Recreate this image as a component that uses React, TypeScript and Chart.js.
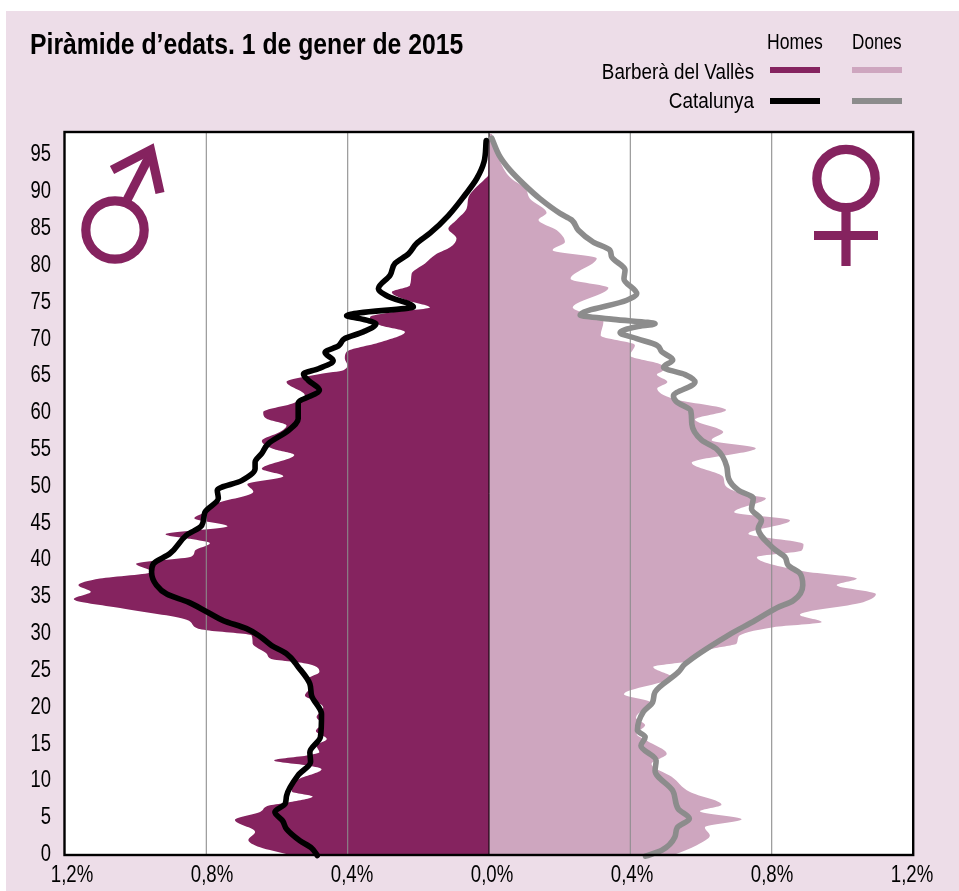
import React, { useEffect, useRef } from "react";
import { Chart, registerables } from "chart.js";

Chart.register(...registerables);

const titleText = "Piràmide d’edats. 1 de gener de 2015";
const columnHeads = ["Homes", "Dones"];
const placeNames = ["Barberà del Vallès", "Catalunya"];
const ageTicksStep = 5;
const shareTicksStep = 0.4;

// Top of the pyramid first: [age, % of population]
const barberaMenAges = [97, 92.9, 92, 91.3, 90.4, 89, 87.5, 85.9, 84.7, 83.4, 82.2, 81.3, 80, 78.6, 77, 76.1, 75, 74, 73.4, 72.7, 71.6, 70.7, 69.3, 68, 67.1, 66.2, 65.5, 65, 63.9, 62.1, 61, 59.8, 58.9, 58, 57.1, 55.9, 54.8, 54, 52.1, 51.1, 50, 49, 47.4, 46.2, 45.4, 44.3, 43.2, 42.6, 42, 41, 40.2, 39.2, 38.1, 37.2, 36.3, 35.4, 34.4, 33.2, 31.6, 30.4, 30.2, 29.5, 28.4, 27, 26.2, 25.9, 25.6, 24.5, 23.6, 22.5, 21.3, 20.7, 19.7, 18.4, 17.5, 16.5, 15.4, 14.5, 13.6, 13.2, 12.5, 11.8, 11.3, 9.9, 8.3, 7.6, 6.8, 6.4, 5.5, 4.4, 2.8, 1.7, 0.7, -0.34];
const barberaMenValues = [0, 0.002, 0.002, 0.015, 0.035, 0.058, 0.063, 0.092, 0.115, 0.092, 0.11, 0.148, 0.181, 0.219, 0.224, 0.275, 0.233, 0.167, 0.271, 0.337, 0.308, 0.238, 0.308, 0.403, 0.408, 0.401, 0.412, 0.478, 0.573, 0.521, 0.554, 0.639, 0.629, 0.573, 0.592, 0.643, 0.61, 0.551, 0.643, 0.582, 0.684, 0.667, 0.771, 0.804, 0.834, 0.74, 0.915, 0.846, 0.79, 0.832, 0.842, 0.999, 0.955, 1.101, 1.162, 1.127, 1.175, 1.044, 0.856, 0.823, 0.799, 0.672, 0.669, 0.629, 0.61, 0.554, 0.511, 0.48, 0.511, 0.505, 0.521, 0.497, 0.469, 0.488, 0.474, 0.49, 0.459, 0.488, 0.48, 0.511, 0.608, 0.511, 0.474, 0.54, 0.558, 0.499, 0.568, 0.62, 0.648, 0.719, 0.662, 0.681, 0.648, 0.563];

const barberaWomenAges = [97.6, 92.9, 91.5, 90.2, 88.8, 86.9, 85.9, 84.5, 82.9, 81.8, 80.7, 77.9, 76.7, 74, 73.4, 72.1, 70.2, 68.9, 67.5, 66.2, 65.5, 64.9, 63.9, 63, 61.6, 60.1, 58.8, 57.1, 56, 54.9, 52.9, 51, 49.9, 48.7, 48.1, 46.2, 45.1, 43.3, 41.9, 41, 40.1, 38.2, 37.2, 36.3, 35.1, 34, 32.3, 31.3, 30.6, 29.3, 28.4, 27.7, 25.9, 25.2, 23.8, 21.5, 20.4, 18.3, 17.3, 16.1, 15.2, 13.4, 12, 10.3, 8.2, 6.5, 5.6, 4.5, 3.4, 2.3, 1, -0.34];
const barberaWomenValues = [0.008, 0.041, 0.064, 0.102, 0.116, 0.163, 0.14, 0.192, 0.215, 0.18, 0.305, 0.231, 0.338, 0.237, 0.258, 0.324, 0.316, 0.413, 0.399, 0.489, 0.493, 0.475, 0.505, 0.476, 0.522, 0.671, 0.583, 0.663, 0.63, 0.755, 0.574, 0.663, 0.668, 0.72, 0.784, 0.694, 0.852, 0.734, 0.89, 0.885, 0.758, 0.89, 1.041, 0.984, 1.095, 1.059, 0.88, 0.942, 0.805, 0.706, 0.701, 0.635, 0.555, 0.465, 0.517, 0.382, 0.456, 0.416, 0.442, 0.418, 0.446, 0.503, 0.46, 0.517, 0.569, 0.658, 0.597, 0.715, 0.611, 0.625, 0.588, 0.522];

const catalunyaMenAges = [96.7, 93.8, 91.5, 89.3, 86.5, 84.1, 82.7, 81.3, 80, 78.4, 76.6, 75.5, 74.1, 73.3, 72.9, 72.5, 71.8, 70.7, 69.8, 68.8, 67.9, 66.8, 65.7, 65, 64.1, 62.8, 61, 58.9, 57.3, 55.5, 54.2, 53, 52.1, 50.5, 49.2, 48.1, 46.2, 44.4, 43.1, 40.6, 39.2, 38.1, 36.3, 35.1, 34, 32.7, 31.5, 30.4, 29.3, 28.1, 27, 25.2, 22.9, 21.3, 18.8, 15.7, 13.6, 12.3, 10.5, 7.7, 6.6, 5.5, 4.3, 3.2, 1.6, 0.6, -0.4];
const catalunyaMenValues = [0.008, 0.014, 0.035, 0.068, 0.115, 0.167, 0.205, 0.228, 0.266, 0.28, 0.313, 0.285, 0.214, 0.365, 0.403, 0.365, 0.32, 0.356, 0.408, 0.426, 0.464, 0.441, 0.483, 0.525, 0.511, 0.48, 0.54, 0.54, 0.568, 0.625, 0.643, 0.662, 0.662, 0.7, 0.769, 0.766, 0.804, 0.813, 0.856, 0.903, 0.95, 0.955, 0.941, 0.912, 0.851, 0.799, 0.752, 0.686, 0.647, 0.615, 0.573, 0.54, 0.507, 0.502, 0.474, 0.477, 0.507, 0.505, 0.54, 0.573, 0.577, 0.606, 0.584, 0.573, 0.535, 0.502, 0.486];

const catalunyaWomenAges = [97, 94.5, 92.7, 90.6, 88.8, 86.8, 85.9, 84.5, 82.9, 81.8, 80.9, 79.1, 77.9, 75.9, 75, 73, 72.4, 71.8, 71.4, 70.6, 69.8, 68.9, 68, 66.9, 65.9, 64.9, 63.9, 62, 61.2, 60, 58.2, 56, 54.8, 52.4, 50.8, 49.2, 48.1, 46.7, 45.1, 44, 41.3, 40.1, 39, 37.9, 36.3, 34.2, 33.2, 31.5, 29.5, 25.6, 24.5, 21.8, 20.4, 19.1, 16.6, 15.7, 14.5, 12.5, 11.1, 8.4, 5.9, 4.6, 3.4, 2.1, 0.3, -0.5];
const catalunyaWomenValues = [0.008, 0.031, 0.059, 0.102, 0.144, 0.201, 0.234, 0.253, 0.295, 0.342, 0.347, 0.385, 0.382, 0.418, 0.39, 0.258, 0.352, 0.47, 0.418, 0.371, 0.418, 0.475, 0.489, 0.52, 0.494, 0.555, 0.583, 0.522, 0.531, 0.571, 0.574, 0.602, 0.644, 0.673, 0.678, 0.706, 0.748, 0.743, 0.771, 0.762, 0.805, 0.838, 0.847, 0.88, 0.888, 0.861, 0.814, 0.753, 0.677, 0.555, 0.536, 0.47, 0.463, 0.437, 0.42, 0.442, 0.43, 0.473, 0.47, 0.52, 0.536, 0.567, 0.533, 0.526, 0.489, 0.443];

const PURPLE = "#85235f";
const PINK = "#cea6bf";
const PANEL = "#eddde8";
const GREY = "#8c8c8c";
const FONT = '"Liberation Sans", Arial, sans-serif';

const toPoints = (ages: number[], values: number[], sign: number) =>
  ages.map((y, i) => ({ x: sign * values[i], y })).reverse();

const shareLabel = (v: number) => Math.abs(v).toFixed(1).replace(".", ",") + "%";

const framePlugin = {
  id: "frame",
  beforeDraw(chart: any) {
    const { ctx, chartArea: a } = chart;
    ctx.save();
    ctx.fillStyle = "#fff";
    ctx.fillRect(a.left, a.top, a.right - a.left, a.bottom - a.top);
    ctx.restore();
  },
  // Grid lines sit above the filled areas but under the two Catalunya lines.
  afterDatasetDraw(chart: any, args: any) {
    if (args.index !== 2) return;
    const { ctx, chartArea, scales } = chart;
    ctx.save();
    scales.x.ticks.forEach((t: any) => {
      if (Math.abs(Math.abs(t.value) - 1.2) < 1e-6) return;
      const zero = Math.abs(t.value) < 1e-6;
      const px = scales.x.getPixelForValue(t.value);
      ctx.beginPath();
      ctx.strokeStyle = zero ? "#000" : "rgba(140,140,140,0.9)";
      ctx.lineWidth = zero ? 1 : 1.2;
      ctx.moveTo(px, chartArea.top);
      ctx.lineTo(px, chartArea.bottom);
      ctx.stroke();
    });
    ctx.restore();
  },
  // No condensed face is installed: the axis labels are squeezed horizontally.
  afterDraw(chart: any) {
    const { ctx, chartArea: a, scales } = chart;
    ctx.save();
    ctx.strokeStyle = "#000";
    ctx.lineWidth = 2.4;
    ctx.strokeRect(a.left - 0.5, a.top, a.right - a.left + 0.7, a.bottom - a.top);
    ctx.fillStyle = "#000";
    ctx.font = `23px ${FONT}`;
    ctx.textBaseline = "alphabetic";
    scales.x.ticks.forEach((t: any) => {
      ctx.save();
      ctx.translate(scales.x.getPixelForValue(t.value) + 3 - 3.33 * t.value, 882);
      ctx.scale(0.81, 1);
      ctx.textAlign = "center";
      ctx.fillText(t.label, 0, 0);
      ctx.restore();
    });
    scales.y.ticks.forEach((t: any) => {
      ctx.save();
      ctx.translate(51, scales.y.getPixelForValue(t.value) + 8.5);
      ctx.scale(0.8, 1);
      ctx.textAlign = "right";
      ctx.fillText(t.label, 0, 0);
      ctx.restore();
    });
    ctx.restore();
  },
};

const abs: React.CSSProperties = { position: "absolute", whiteSpace: "nowrap", fontFamily: FONT, color: "#000", lineHeight: 1 };

export default function App() {
  const ref = useRef<HTMLCanvasElement>(null);

  useEffect(() => {
    const line = (label: string, data: any[], color: string) => ({
      label, data, borderColor: color, borderWidth: 5.6, pointRadius: 0, fill: false,
      cubicInterpolationMode: "monotone", borderCapStyle: "round", borderJoinStyle: "round", clip: false,
    });
    const area = (label: string, data: any[], color: string) => ({
      label, data, borderColor: color, backgroundColor: color, borderWidth: 0, pointRadius: 0,
      fill: { value: 0 }, cubicInterpolationMode: "monotone",
    });
    const chart = new Chart(ref.current as HTMLCanvasElement, {
      type: "line",
      data: {
        datasets: [
          line("Catalunya Homes", toPoints(catalunyaMenAges, catalunyaMenValues, -1), "#000"),
          line("Catalunya Dones", toPoints(catalunyaWomenAges, catalunyaWomenValues, 1), GREY),
          area("Barberà del Vallès Homes", toPoints(barberaMenAges, barberaMenValues, -1), PURPLE),
          area("Barberà del Vallès Dones", toPoints(barberaWomenAges, barberaWomenValues, 1), PINK),
        ],
      } as any,
      options: {
        indexAxis: "y",
        responsive: false,
        animation: false,
        layout: { padding: { left: 0, top: 132, right: 46, bottom: 0 } },
        plugins: { legend: { display: false }, title: { display: false }, tooltip: { enabled: false } },
        scales: {
          x: {
            type: "linear", min: -1.2, max: 1.2,
            grid: { display: false }, border: { display: false },
            afterFit: (s: any) => { s.height = 36; },
            ticks: {
              stepSize: shareTicksStep, autoSkip: false, maxRotation: 0, padding: 7, color: "transparent",
              font: { family: FONT, size: 18 }, callback: (v: any) => shareLabel(Number(v)),
            },
          },
          y: {
            type: "linear", min: -0.34, max: 97.85,
            grid: { display: false }, border: { display: false },
            afterFit: (s: any) => { s.width = 65; },
            ticks: {
              stepSize: ageTicksStep, autoSkip: false, includeBounds: false, padding: 14, color: "transparent",
              font: { family: FONT, size: 18 },
            },
          },
        },
      } as any,
      plugins: [framePlugin],
    });
    return () => chart.destroy();
  }, []);

  return (
    <div style={{ position: "absolute", left: 0, top: 0, width: 959, height: 891, background: "#fff", overflow: "hidden" }}>
      <div style={{ position: "absolute", left: 6, top: 11, width: 953, height: 880, background: PANEL }} />
      <canvas ref={ref} width={959} height={891} style={{ position: "absolute", left: 0, top: 0, display: "block" }} />
      <div style={{ ...abs, left: 30, top: 29, fontSize: 30, fontWeight: 700, transform: "scaleX(0.825)", transformOrigin: "left top" }}>{titleText}</div>
      <div style={{ ...abs, left: 767, top: 30.5, fontSize: 22, transform: "scaleX(0.8)", transformOrigin: "left top" }}>{columnHeads[0]}</div>
      <div style={{ ...abs, left: 852, top: 30.5, fontSize: 22, transform: "scaleX(0.78)", transformOrigin: "left top" }}>{columnHeads[1]}</div>
      <div style={{ ...abs, right: 959 - 754, top: 60.5, fontSize: 22, transform: "scaleX(0.855)", transformOrigin: "right top" }}>{placeNames[0]}</div>
      <div style={{ ...abs, right: 959 - 754, top: 89.5, fontSize: 22, transform: "scaleX(0.86)", transformOrigin: "right top" }}>{placeNames[1]}</div>
      {[[770, 67, PURPLE], [852, 67, PINK], [770, 98, "#000"], [852, 98, GREY]].map(([l, t, c], i) => (
        <div key={i} style={{ position: "absolute", left: l as number, top: t as number, width: 50, height: 6, background: c as string }} />
      ))}
      <svg width={959} height={891} style={{ position: "absolute", left: 0, top: 0, pointerEvents: "none" }} fill="none" stroke={PURPLE} strokeWidth={9.2}>
        <circle cx={115} cy={230} r={29.2} />
        <path d="M126 202 L150 155" />
        <path d="M112 170 L150.5 150 L160 193" strokeLinejoin="miter" />
        <circle cx={846} cy={178.5} r={29.2} />
        <path d="M846 208 V266 M814 235.5 H878" />
      </svg>
    </div>
  );
}
